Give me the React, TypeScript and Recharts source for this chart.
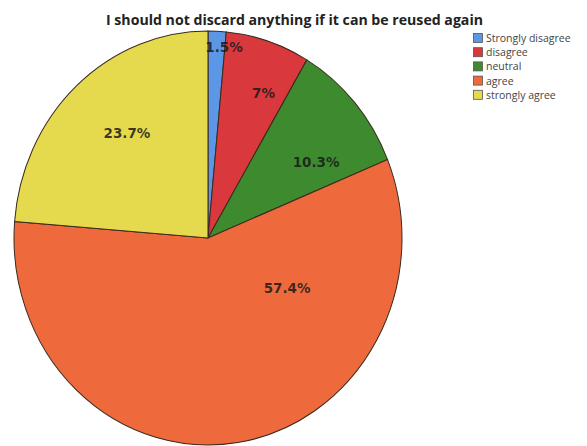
import React from 'react';
import { PieChart, Pie, Cell } from 'recharts';

const categories = ['Strongly disagree', 'disagree', 'neutral', 'agree', 'strongly agree'];
const percentages = [1.5, 7, 10.3, 57.4, 23.7];
const sliceLabels = ['1.5%', '7%', '10.3%', '57.4%', '23.7%'];
const title = 'I should not discard anything if it can be reused again';

const colors = ['#5b97e4', '#d9393d', '#3d8b2e', '#ee6a3c', '#e5da4e'];
// label placement: [angle in degrees, fraction of radius]
const labelPlacement: [number, number][] = [
  [84.9, 0.926],
  [67.8, 0.757],
  [33.4, 0.667],
  [-30.7, 0.474],
  [129.5, 0.657],
];

const data = categories.map((name, i) => ({ name, value: percentages[i], label: sliceLabels[i] }));

const CX = 208;
const CY = 238;
const R = 194;
const SCALE_Y = 207 / 194;

const renderLabel = (props: any) => {
  const { cx, cy, outerRadius, index } = props;
  const [ang, frac] = labelPlacement[index];
  const rad = (ang * Math.PI) / 180;
  const x = cx + outerRadius * frac * Math.cos(rad);
  const y = cy - outerRadius * frac * Math.sin(rad);
  return (
    <text
      x={x}
      y={y}
      textAnchor="middle"
      dominantBaseline="central"
      fill="#1a1a1a"
      fillOpacity={0.85}
      fontFamily="DejaVu Sans"
      fontWeight="bold"
      fontSize={13.5}
    >
      {data[index].label}
    </text>
  );
};

export default function App() {
  return (
    <div
      style={{
        position: 'absolute',
        left: 0,
        top: 0,
        width: 587,
        height: 446,
        background: '#fff',
        overflow: 'hidden',
      }}
    >
      <div
        style={{
          position: 'absolute',
          left: 0,
          top: 0,
          width: 587,
          height: 446,
          transform: `scaleY(${SCALE_Y})`,
          transformOrigin: `${CX}px ${CY}px`,
        }}
      >
        <PieChart width={587} height={446} margin={{ top: 0, right: 0, bottom: 0, left: 0 }}>
          <Pie
            data={data}
            dataKey="value"
            nameKey="name"
            cx={CX}
            cy={CY}
            outerRadius={R}
            startAngle={90}
            endAngle={-270}
            stroke="#3a2a1e"
            strokeWidth={1}
            label={renderLabel}
            labelLine={false}
            isAnimationActive={false}
          >
            {data.map((d, i) => (
              <Cell key={d.name} fill={colors[i]} />
            ))}
          </Pie>
        </PieChart>
      </div>
      <svg width={587} height={30} style={{ position: 'absolute', left: 0, top: 0 }}>
        <text
          x={106}
          y={25}
          textLength={377}
          lengthAdjust="spacingAndGlyphs"
          fontFamily="Open Sans"
          fontWeight="bold"
          fontSize={14}
          fill="#222"
        >
          {title}
        </text>
      </svg>
      <svg width={120} height={80} style={{ position: 'absolute', left: 470, top: 28 }}>
        {categories.map((c, i) => (
          <g key={c}>
            <rect
              x={3.5}
              y={5.5 + i * 14.2}
              width={9}
              height={9}
              fill={colors[i]}
              stroke="#555"
              strokeWidth={0.8}
            />
            <text
              x={16}
              y={10 + i * 14.2}
              dominantBaseline="central"
              fontFamily="Open Sans"
              fontSize={10.5}
              fill="#444"
            >
              {c}
            </text>
          </g>
        ))}
      </svg>
    </div>
  );
}
